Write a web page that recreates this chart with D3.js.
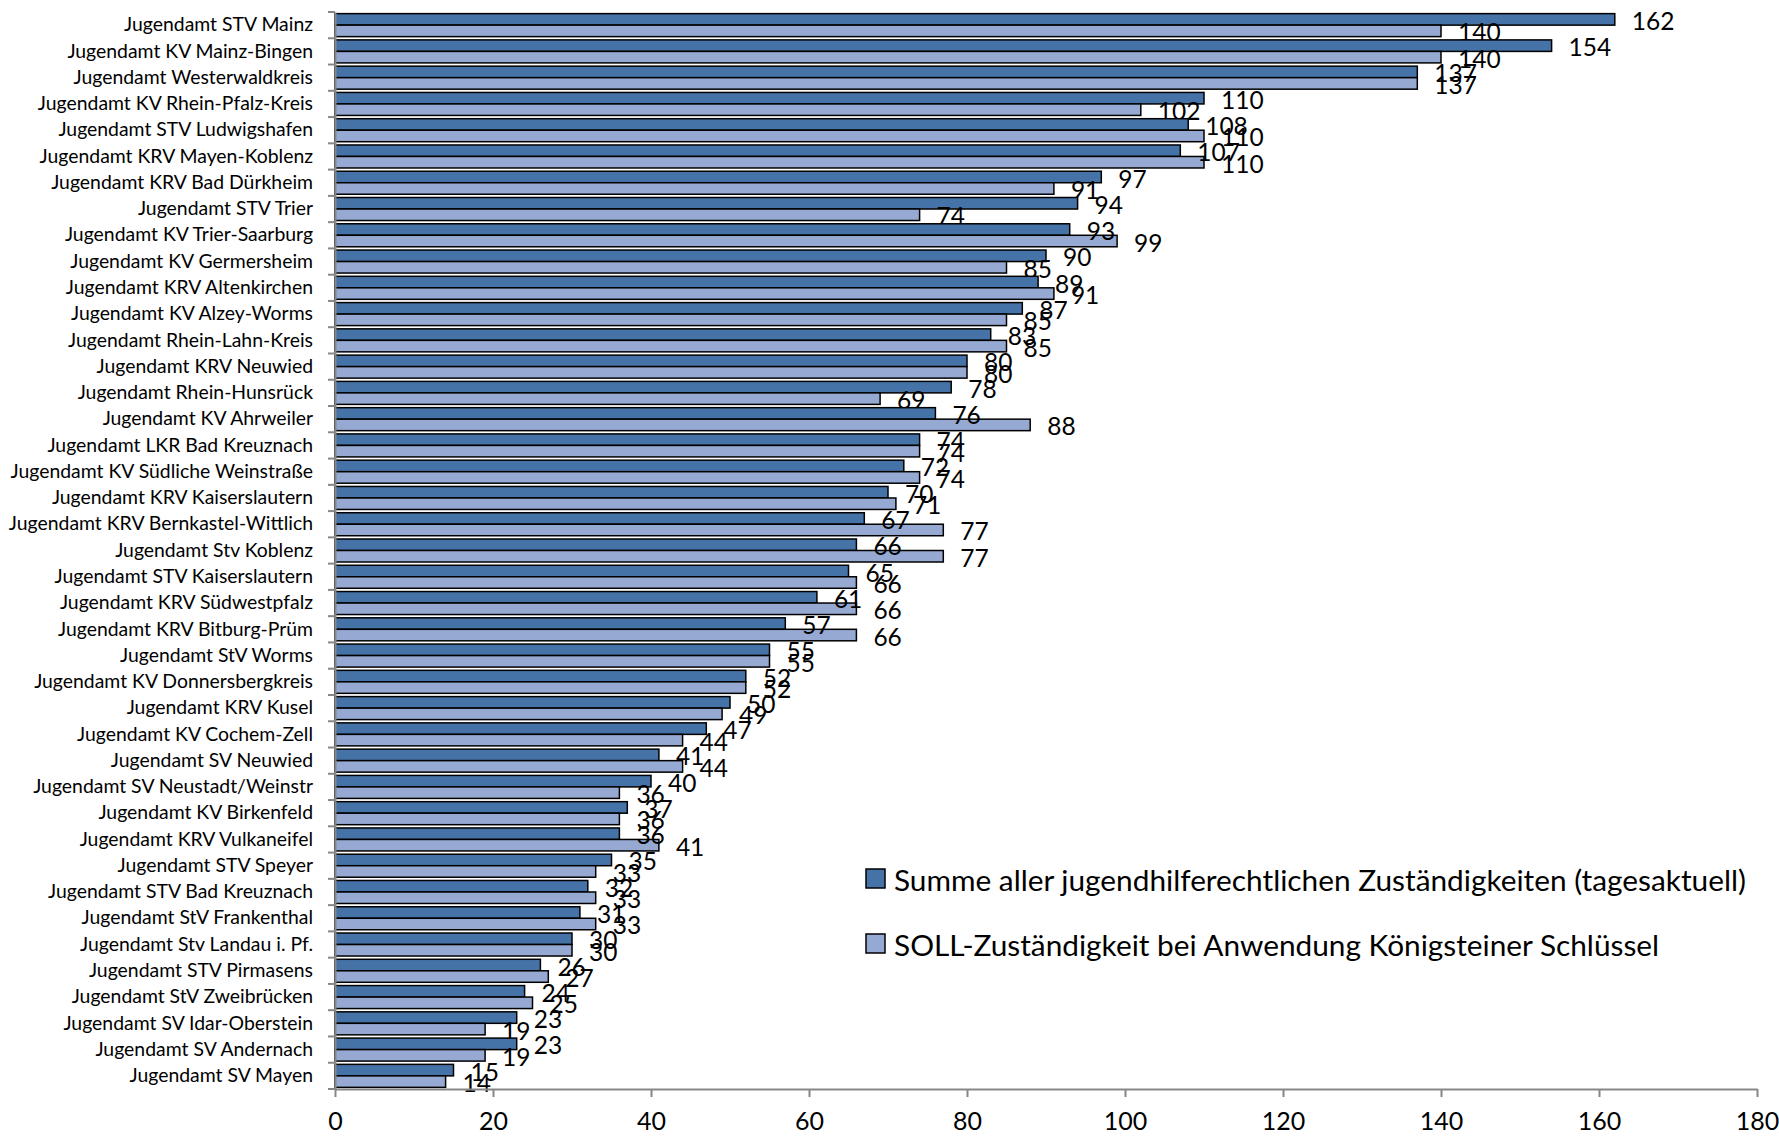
<!DOCTYPE html>
<html>
<head>
<meta charset="utf-8">
<script src="https://cdn.jsdelivr.net/npm/d3@7/dist/d3.min.js"></script>
<style>
  body { margin: 0; background: #fff; }
  text { font-family: Lato, "Open Sans", sans-serif; fill: #000; }
</style>
</head>
<body>
<svg id="chart" width="1779" height="1137"></svg>
<script>
var categories = ["Jugendamt STV Mainz", "Jugendamt KV Mainz-Bingen", "Jugendamt Westerwaldkreis",
  "Jugendamt KV Rhein-Pfalz-Kreis", "Jugendamt STV Ludwigshafen", "Jugendamt KRV Mayen-Koblenz",
  "Jugendamt KRV Bad Dürkheim", "Jugendamt STV Trier", "Jugendamt KV Trier-Saarburg",
  "Jugendamt KV Germersheim", "Jugendamt KRV Altenkirchen", "Jugendamt KV Alzey-Worms",
  "Jugendamt Rhein-Lahn-Kreis", "Jugendamt KRV Neuwied", "Jugendamt Rhein-Hunsrück",
  "Jugendamt KV Ahrweiler", "Jugendamt LKR Bad Kreuznach", "Jugendamt KV Südliche Weinstraße",
  "Jugendamt KRV Kaiserslautern", "Jugendamt KRV Bernkastel-Wittlich", "Jugendamt Stv Koblenz",
  "Jugendamt STV Kaiserslautern", "Jugendamt KRV Südwestpfalz", "Jugendamt KRV Bitburg-Prüm",
  "Jugendamt StV Worms", "Jugendamt KV Donnersbergkreis", "Jugendamt KRV Kusel",
  "Jugendamt KV Cochem-Zell", "Jugendamt SV Neuwied", "Jugendamt SV Neustadt/Weinstr",
  "Jugendamt KV Birkenfeld", "Jugendamt KRV Vulkaneifel", "Jugendamt STV Speyer",
  "Jugendamt STV Bad Kreuznach", "Jugendamt StV Frankenthal", "Jugendamt Stv Landau i. Pf.",
  "Jugendamt STV Pirmasens", "Jugendamt StV Zweibrücken", "Jugendamt SV Idar-Oberstein",
  "Jugendamt SV Andernach", "Jugendamt SV Mayen"];

// Summe aller Zuständigkeiten (tagesaktuell)
var istValues = [162, 154, 137, 110, 108, 107, 97, 94, 93, 90, 89, 87, 83, 80, 78, 76, 74, 72, 70, 67, 66,
  65, 61, 57, 55, 52, 50, 47, 41, 40, 37, 36, 35, 32, 31, 30, 26, 24, 23, 23, 15];
// SOLL nach Königsteiner Schlüssel
var sollValues = [140, 140, 137, 102, 110, 110, 91, 74, 99, 85, 91, 85, 85, 80, 69, 88, 74, 74, 71, 77, 77,
  66, 66, 66, 55, 52, 49, 44, 44, 36, 36, 41, 33, 33, 33, 30, 27, 25, 19, 19, 14];

var seriesNames = ["Summe aller jugendhilferechtlichen Zuständigkeiten (tagesaktuell)",
  "SOLL-Zuständigkeit bei Anwendung Königsteiner Schlüssel"];
var seriesColors = ["#4573a7", "#95a9d2"];
var xTicks = [0, 20, 40, 60, 80, 100, 120, 140, 160, 180];

var svg = d3.select("#chart");
var plotLeft = 335, plotRight = 1757, plotTop = 12, plotBottom = 1089;
var axisColor = "#878787";

var x = d3.scaleLinear().domain([0, 180]).range([plotLeft, plotRight]);
var y = d3.scaleBand().domain(categories).range([plotTop, plotBottom]);
var sub = d3.scaleBand().domain([0, 1]).range([0, y.step()]).paddingOuter(0.142);

var rows = categories.map(function(c, i) {
  return {name: c, vals: [istValues[i], sollValues[i]]};
});

// bars
var groups = svg.append("g").selectAll("g").data(rows).enter().append("g")
  .attr("transform", function(d) { return "translate(0," + y(d.name) + ")"; });

groups.selectAll("rect").data(function(d) { return d.vals; }).enter().append("rect")
  .attr("x", x(0))
  .attr("y", function(d, i) { return sub(i); })
  .attr("width", function(d) { return x(d) - x(0); })
  .attr("height", sub.bandwidth())
  .attr("fill", function(d, i) { return seriesColors[i]; })
  .attr("stroke", "#000")
  .attr("stroke-width", 1.5);

// x axis
var xAxis = svg.append("g").attr("transform", "translate(0," + plotBottom + ")")
  .call(d3.axisBottom(x).tickValues(xTicks).tickSize(8).tickPadding(15).tickSizeOuter(0));
xAxis.select(".domain").attr("stroke", axisColor).attr("stroke-width", 2);
xAxis.selectAll(".tick line").attr("stroke", axisColor).attr("stroke-width", 2);
xAxis.selectAll(".tick text").attr("font-size", 25).attr("font-family", "Lato");

// y axis: labels centred in bands, ticks at band boundaries
var yAxis = svg.append("g").attr("transform", "translate(" + plotLeft + ",0)")
  .call(d3.axisLeft(y).tickSize(0).tickPadding(22));
yAxis.select(".domain").attr("stroke", axisColor).attr("stroke-width", 2);
yAxis.selectAll(".tick text").attr("font-size", 19.4).attr("font-family", "Lato");

svg.append("g").selectAll("line").data(categories.concat(["__end"])).enter().append("line")
  .attr("x1", plotLeft - 7).attr("x2", plotLeft)
  .attr("y1", function(d, i) { return plotTop + i * y.step(); })
  .attr("y2", function(d, i) { return plotTop + i * y.step(); })
  .attr("stroke", axisColor).attr("stroke-width", 2);

// value labels
groups.selectAll("text.val").data(function(d) { return d.vals; }).enter().append("text")
  .attr("class", "val")
  .attr("x", function(d) { return x(d) + 17; })
  .attr("y", function(d, i) { return sub(i) + sub.bandwidth() / 2 + 1; })
  .attr("dominant-baseline", "central")
  .attr("font-size", 24.5)
  .text(function(d) { return d; });

// legend
var legend = svg.append("g").selectAll("g").data(seriesNames).enter().append("g")
  .attr("transform", function(d, i) { return "translate(866," + (879 + i * 65) + ")"; });
legend.append("rect")
  .attr("x", 0).attr("y", -10).attr("width", 19).attr("height", 19)
  .attr("fill", function(d, i) { return seriesColors[i]; })
  .attr("stroke", "#000").attr("stroke-width", 1.5);
legend.append("text")
  .attr("x", 28).attr("y", 0)
  .attr("dominant-baseline", "central")
  .attr("font-size", 29.8)
  .text(function(d) { return d; });
</script>
</body>
</html>
